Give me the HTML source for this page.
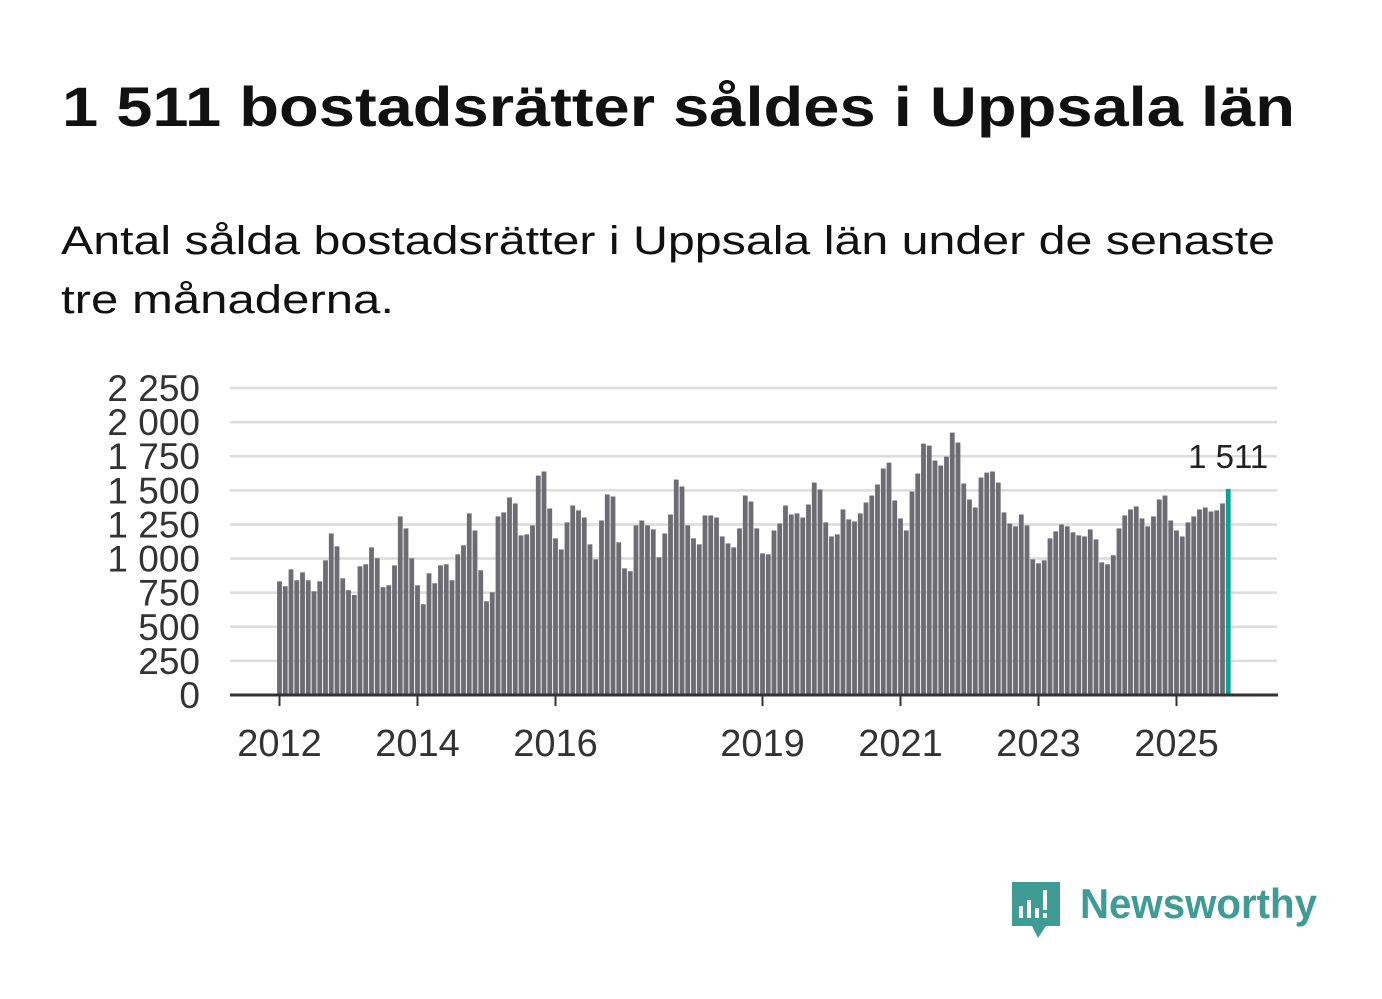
<!DOCTYPE html>
<html><head><meta charset="utf-8"><style>
body{margin:0;background:#fff;}
svg{display:block;font-family:"Liberation Sans","DejaVu Sans",sans-serif;}
</style></head><body>
<svg id="chart" width="1382" height="999" viewBox="0 0 1382 999">
<text x="62" y="126" font-size="56" font-weight="bold" fill="#111" textLength="1233" lengthAdjust="spacingAndGlyphs">1 511 bostadsrätter såldes i Uppsala län</text>
<text x="61" y="254" font-size="40" fill="#111" textLength="1214" lengthAdjust="spacingAndGlyphs">Antal sålda bostadsrätter i Uppsala län under de senaste</text>
<text x="61" y="313" font-size="40" fill="#111" textLength="333" lengthAdjust="spacingAndGlyphs">tre månaderna.</text>
<g id="grid"></g><g id="bars"></g><g id="axes"></g>
<g>
<path d="M1012 882 h48 v44 h-14 l-8 12 l-6 -12 h-20 z" fill="#3f9c95"/>
<rect x="1019" y="906" width="4" height="12" fill="#fff"/><rect x="1027" y="900" width="4" height="18" fill="#fff"/><rect x="1035" y="908" width="4" height="10" fill="#fff"/><rect x="1043" y="890" width="4" height="20" fill="#fff"/><rect x="1043" y="913" width="4" height="5" fill="#fff"/>
<text x="1080" y="918" font-size="42" font-weight="bold" fill="#3f9c95" textLength="237" lengthAdjust="spacingAndGlyphs">Newsworthy</text>
</g>
</svg>
<script>
const values=[833,797,921,841,899,841,760,833,987,1184,1089,855,768,733,943,958,1082,1002,790,804,950,1309,1221,1002,804,665,892,819,950,958,841,1031,1097,1331,1206,914,687,753,1309,1338,1448,1404,1170,1177,1243,1608,1638,1367,1148,1067,1265,1389,1353,1301,1104,994,1279,1470,1455,1119,928,907,1243,1279,1243,1214,1009,1184,1323,1579,1528,1243,1148,1104,1316,1316,1301,1162,1111,1082,1221,1462,1418,1221,1038,1031,1206,1257,1389,1323,1331,1301,1396,1557,1506,1265,1162,1177,1360,1287,1272,1331,1411,1462,1543,1660,1703,1426,1294,1206,1491,1623,1842,1828,1718,1682,1747,1923,1850,1550,1433,1374,1594,1630,1638,1557,1338,1257,1236,1323,1243,994,965,987,1148,1199,1250,1236,1192,1170,1162,1214,1140,972,958,1024,1221,1316,1360,1382,1294,1236,1309,1433,1462,1279,1206,1162,1265,1309,1360,1374,1345,1353,1404,1511];
const startYear=2012;
const yTicks=[0,250,500,750,1000,1250,1500,1750,2000,2250];
const yTickLabels=["0","250","500","750","1 000","1 250","1 500","1 750","2 000","2 250"];
const xTickYears=[2012,2014,2016,2019,2021,2023,2025];
const lastLabel="1 511";
const NS="http://www.w3.org/2000/svg";
const y0=695,pxPer=307/2250,x0=279.5,step=5.75;
const yS=v=>y0-v*pxPer;
const xS=i=>x0+i*step;
function mk(tag,attrs,parent){const e=document.createElementNS(NS,tag);for(const k in attrs)e.setAttribute(k,attrs[k]);parent.appendChild(e);return e;}
const grid=document.getElementById('grid'),bars=document.getElementById('bars'),axes=document.getElementById('axes');
yTicks.forEach((t,k)=>{
 if(t>0){const l=mk('line',{x1:230,x2:1277,y1:yS(t),y2:yS(t),stroke:'#dcdcdc','stroke-width':2.5},grid);
 
 }
 const tx=mk('text',{x:200,y:yS(t)+13,'font-size':37,'text-anchor':'end',fill:'#333'},axes);
 tx.textContent=yTickLabels[k];
 
 
});
values.forEach((v,i)=>{
 const last=i===values.length-1;
 const r=mk('rect',{x:xS(i)-2.4,y:yS(v),width:4.8,height:y0-yS(v),fill:last?'#0aa296':'#6d6c72'},bars);
 
 
});
const base=mk('line',{x1:230,x2:1278,y1:y0,y2:y0,stroke:'#333','stroke-width':3},axes);


xTickYears.forEach(yr=>{
 const x=xS((yr-startYear)*12);
 const tk=mk('line',{x1:x,x2:x,y1:y0,y2:y0+11,stroke:'#333','stroke-width':2},axes);
 
 
 const t=mk('text',{x:x,y:756,'font-size':38,'text-anchor':'middle',fill:'#333'},axes);
 t.textContent=yr;
 
 
});
const li=values.length-1;
const lab=mk('text',{x:xS(li)+40,y:yS(values[li])-21,'font-size':33,'text-anchor':'end',fill:'#222'},axes);
lab.textContent=lastLabel;


</script>
</body></html>
